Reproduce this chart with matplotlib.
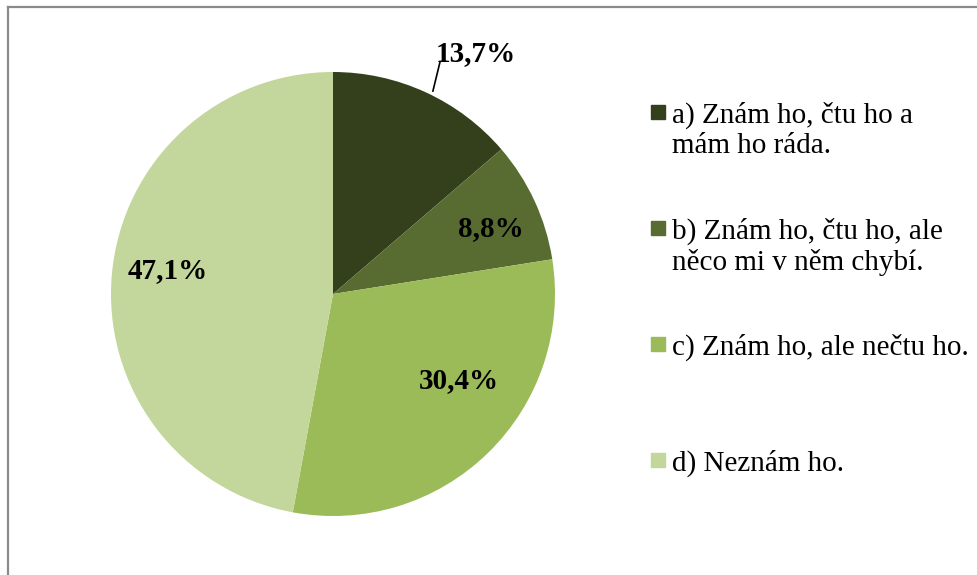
import matplotlib.pyplot as plt
from matplotlib.patches import Rectangle
from matplotlib.lines import Line2D

# answers and their shares (%)
labels = ["a) Znám ho, čtu ho a\nmám ho ráda.",
          "b) Znám ho, čtu ho, ale\nněco mi v něm chybí.",
          "c) Znám ho, ale nečtu ho.",
          "d) Neznám ho."]
values = [13.7, 8.8, 30.4, 47.1]
pct_text = ["13,7%", "8,8%", "30,4%", "47,1%"]
colors = ["#343F1B", "#586C31", "#9BBB59", "#C3D69B"]

W, H = 978, 575
fig = plt.figure(figsize=(W / 100, H / 100), dpi=100)

# pie centre (333, 294) px, radius 222 px
cx, cy, r = 333, 294, 222
ax = fig.add_axes([(cx - r) / W, (H - cy - r) / H, 2 * r / W, 2 * r / H])
ax.pie(values, colors=colors, startangle=90, counterclock=False,
       radius=1, wedgeprops=dict(linewidth=0))
ax.set_xlim(-1, 1)
ax.set_ylim(-1, 1)
ax.set_aspect("equal")
ax.axis("off")

# label positions in radius units
lab_pos = [(0.645, 1.085), (0.71, 0.297), (0.565, -0.39), (-0.745, 0.105)]
for t, (x, y) in zip(pct_text, lab_pos):
    ax.text(x, y, t, ha="center", va="center", fontsize=21,
            fontweight="bold", family="Liberation Serif", clip_on=False)
ax.add_line(Line2D([0.45, 0.482], [0.914, 1.045], color="black", lw=1.2,
                   clip_on=False))

# legend drawn by hand
for i, (lab, c) in enumerate(zip(labels, colors)):
    yc = 112 + i * 116
    fig.patches.append(Rectangle((651 / W, (H - yc - 7) / H), 14 / W, 14 / H,
                                 transform=fig.transFigure, color=c))
    fig.text(672 / W, (H - yc + 10) / H, lab, ha="left", va="top",
             fontsize=21, family="Liberation Serif", linespacing=1.19)

# chart frame (only top and left edges visible)
fig.add_artist(Line2D([8 / W, 1], [1 - 7 / H, 1 - 7 / H], color="#8a8a8a",
                      lw=1.6, transform=fig.transFigure))
fig.add_artist(Line2D([8 / W, 8 / W], [0, 1 - 7 / H], color="#8a8a8a",
                      lw=1.6, transform=fig.transFigure))

fig.savefig("out.png", dpi=100)
